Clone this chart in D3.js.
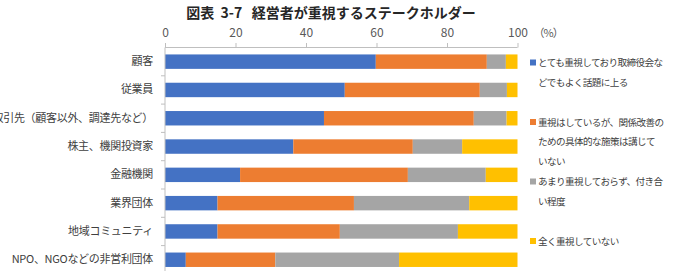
<!DOCTYPE html>
<html>
<head>
<meta charset="utf-8">
<script src="https://cdn.jsdelivr.net/npm/d3@7"></script>
<style>
  body { margin: 0; background: #fff; }
  text { font-family: "Noto Sans CJK JP", "Noto Sans", sans-serif; }
  .domain { stroke: #bfbfbf; }
  .tick line { stroke: #bfbfbf; }
</style>
</head>
<body>
<div id="chart"></div>
<script>
'use strict'

// stakeholder categories (top to bottom)
var categories = ["顧客", "従業員", "取引先（顧客以外、調達先など）", "株主、機関投資家",
                  "金融機関", "業界団体", "地域コミュニティ", "NPO、NGOなどの非営利団体"]

// shares in %
var veryImportant = [59.8, 51.0, 45.1, 36.4, 21.3, 14.9, 14.9, 5.9]
var importantNoAction = [31.5, 38.3, 42.5, 33.9, 47.6, 38.7, 34.7, 25.4]
var notVery = [5.4, 7.7, 9.3, 14.0, 22.1, 32.7, 33.5, 35.1]
var notAtAll = [3.3, 3.0, 3.1, 15.7, 9.0, 13.7, 16.9, 33.6]

var seriesNames = ["とても重視しており取締役会などでもよく話題に上る",
                   "重視はしているが、関係改善のための具体的な施策は講じていない",
                   "あまり重視しておらず、付き合い程度",
                   "全く重視していない"]
// legend lines as wrapped in the original
var legendLines = [["とても重視しており取締役会な", "どでもよく話題に上る"],
                   ["重視はしているが、関係改善の", "ための具体的な施策は講じて", "いない"],
                   ["あまり重視しておらず、付き合", "い程度"],
                   ["全く重視していない"]]
var xTicks = [0, 20, 40, 60, 80, 100]

var colors = ["#4472C4", "#ED7D31", "#A5A5A5", "#FFC000"]

var width = 678
var height = 271
var margin = {left: 165, top: 47.5, right: 160.5}

var svg = d3.select("#chart")
            .append("svg")
            .attr("width", width)
            .attr("height", height)

// build rows for the stack
var rows = categories.map(function(c, i){
    return {cat: c, s0: veryImportant[i], s1: importantNoAction[i], s2: notVery[i], s3: notAtAll[i]}
})
var keys = ["s0", "s1", "s2", "s3"]
var stacked = d3.stack().keys(keys)(rows)

var xScale = d3.scaleLinear()
               .domain([0, 100])
               .range([margin.left, width - margin.right])

var yScale = d3.scaleBand()
               .domain(categories)
               .range([margin.top, margin.top + 28.3 * categories.length])
               .paddingInner(0.49)
               .paddingOuter(0.245)

// title
svg.append("text")
   .attr("x", 331)
   .attr("y", 18)
   .attr("text-anchor", "middle")
   .style("font-size", "14px")
   .style("font-weight", "bold")
   .style("white-space", "pre")
   .attr("fill", "#262626")
   .text("図表  3-7   経営者が重視するステークホルダー")

// bars
svg.append("g")
   .selectAll("g")
   .data(stacked)
   .enter()
   .append("g")
   .attr("fill", (d, i) => colors[i])
   .selectAll("rect")
   .data(d => d)
   .enter()
   .append("rect")
   .attr("x", d => xScale(d[0]))
   .attr("width", d => xScale(d[1]) - xScale(d[0]))
   .attr("y", d => yScale(d.data.cat))
   .attr("height", yScale.bandwidth())

// top axis
var xAxis = d3.axisTop(xScale).tickValues(xTicks).tickSize(4.5).tickPadding(6)
var gx = svg.append("g")
   .attr("transform", "translate(0," + margin.top + ")")
   .call(xAxis)
gx.select(".domain").attr("d", "M" + xScale(0) + ",0H" + xScale(100))
gx.selectAll("text")
  .style("font-size", "12px")
  .attr("fill", "#595959")

svg.append("text")
   .attr("x", xScale(100) + 16)
   .attr("y", 37)
   .style("font-size", "11px")
   .style("letter-spacing", "-1px")
   .attr("fill", "#595959")
   .text("（%）")

// left axis: labels only, boundary ticks drawn separately
var yAxis = d3.axisLeft(yScale).tickSize(0).tickPadding(12)
var gy = svg.append("g")
   .attr("transform", "translate(" + margin.left + ",0)")
   .call(yAxis)
gy.select(".domain").attr("d", "M0," + margin.top + "V" + height)
gy.selectAll("text")
  .style("font-size", "11px")
  .style("letter-spacing", "-0.3px")
  .attr("fill", "#404040")

svg.append("g")
   .selectAll("line")
   .data(d3.range(1, categories.length))
   .enter()
   .append("line")
   .attr("x1", margin.left - 4)
   .attr("x2", margin.left)
   .attr("y1", i => margin.top + yScale.step() * i)
   .attr("y2", i => margin.top + yScale.step() * i)
   .attr("stroke", "#bfbfbf")

// legend
var legend = svg.append("g")
   .selectAll("g")
   .data(seriesNames)
   .enter()
   .append("g")
   .attr("transform", (d, i) => "translate(530," + (63 + i * 59.5) + ")")

legend.append("rect")
   .attr("x", 0)
   .attr("y", -3.5)
   .attr("width", 6)
   .attr("height", 6)
   .attr("fill", (d, i) => colors[i])

legend.append("text")
   .style("font-size", "9.6px")
   .style("letter-spacing", "-0.6px")
   .attr("fill", "#404040")
   .selectAll("tspan")
   .data((d, i) => legendLines[i])
   .enter()
   .append("tspan")
   .attr("x", 8)
   .attr("y", (d, j) => j * 19.5)
   .attr("dy", "0.35em")
   .text(d => d)
</script>
</body>
</html>
